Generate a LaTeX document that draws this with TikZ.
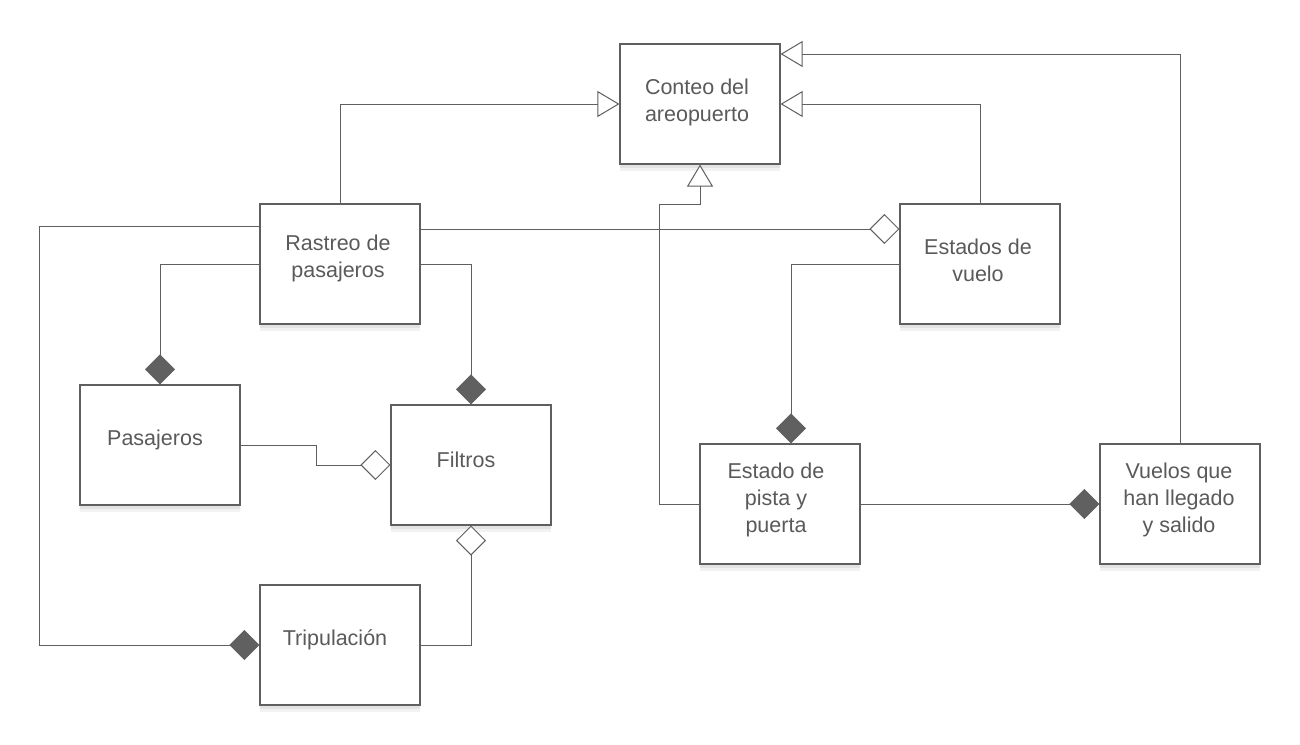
\documentclass[tikz,border=0pt]{standalone}
\usepackage{fontspec}
\setmainfont{Liberation Sans}
\usetikzlibrary{arrows.meta,calc,shadows}
\definecolor{ln}{HTML}{5F5F5F}
\definecolor{tx}{HTML}{5A5A5A}
\definecolor{df}{HTML}{606060}
\begin{document}
\begin{tikzpicture}[x=1pt,y=-1pt,
 box/.style={draw=ln,line width=1.1pt,fill=white,minimum width=160pt,minimum height=120pt,inner sep=0pt,
   drop shadow={shadow xshift=0pt,shadow yshift=-7pt,opacity=0.05,fill=black},
   drop shadow={shadow xshift=0pt,shadow yshift=-4pt,opacity=0.06,fill=black}},
 lbl/.style={text=tx,font=\fontsize{21.5}{27}\selectfont,align=center,inner sep=0pt},
 conn/.style={draw=ln,line width=1pt},
 tri/.style={conn,-{Triangle[open,length=22pt,width=26pt,fill=white]}},
 odia/.style={conn,-{Diamond[open,length=30pt,width=30pt,fill=white]}},
 fdia/.style={conn,-{Diamond[length=30pt,width=30pt,fill=df,color=df]}}]
\path[fill=white,use as bounding box] (0,0) rectangle (1300,744);

\node[box] (conteo) at (700,104) {};
\node[box] (rastreo) at (340,264) {};
\node[box] (pasaj) at (160,445) {};
\node[box] (filtros) at (471,465) {};
\node[box] (trip) at (340,645) {};
\node[box] (estados) at (980,264) {};
\node[box] (pista) at (780,504) {};
\node[box] (vuelos) at (1180,504) {};

\node[lbl] (conteo-t) at ($(conteo.center)+(-3,-2)$) {Conteo del\\areopuerto};
\node[lbl] (rastreo-t) at ($(rastreo.center)+(-2,-6)$) {Rastreo de\\pasajeros};
\node[lbl] (pasaj-t) at ($(pasaj.center)+(-5,-5)$) {Pasajeros};
\node[lbl] (filtros-t) at ($(filtros.center)+(-5,-5)$) {Filtros};
\node[lbl] (trip-t) at ($(trip.center)+(-5,-5)$) {Tripulación};
\node[lbl] (estados-t) at ($(estados.center)+(-2,-4)$) {Estados de\\vuelo};
\node[lbl] (pista-t) at ($(pista.center)+(-4,-4)$) {Estado de\\pista y\\puerta};
\node[lbl] (vuelos-t) at ($(vuelos.center)+(-1,-4)$) {Vuelos que\\han llegado\\y salido};

% generalizations to Conteo
\draw[tri] (rastreo.north) |- (conteo.west);
\draw[tri] (estados.north) |- (conteo.east);
\draw[tri] (vuelos.north) |- ([yshift=50pt]conteo.east);
\draw[tri] (pista.west) -- ++(-40,0) |- ([yshift=-40pt]conteo.south) -- (conteo.south);

% aggregation / composition
\draw[odia] ([yshift=35pt]rastreo.east) -- ([yshift=35pt]estados.west);
\draw[fdia] ([yshift=38pt]rastreo.west) -- ++(-220,0) |- (trip.west);
\draw[fdia] (rastreo.west) -| (pasaj.north);
\draw[fdia] (rastreo.east) -| (filtros.north);
\draw[odia] (pasaj.east) -- ++(76,0) |- (filtros.west);
\draw[odia] (trip.east) -| (filtros.south);
\draw[fdia] (estados.west) -| ([xshift=11pt]pista.north);
\draw[fdia] (pista.east) -- (vuelos.west);
\end{tikzpicture}
\end{document}
